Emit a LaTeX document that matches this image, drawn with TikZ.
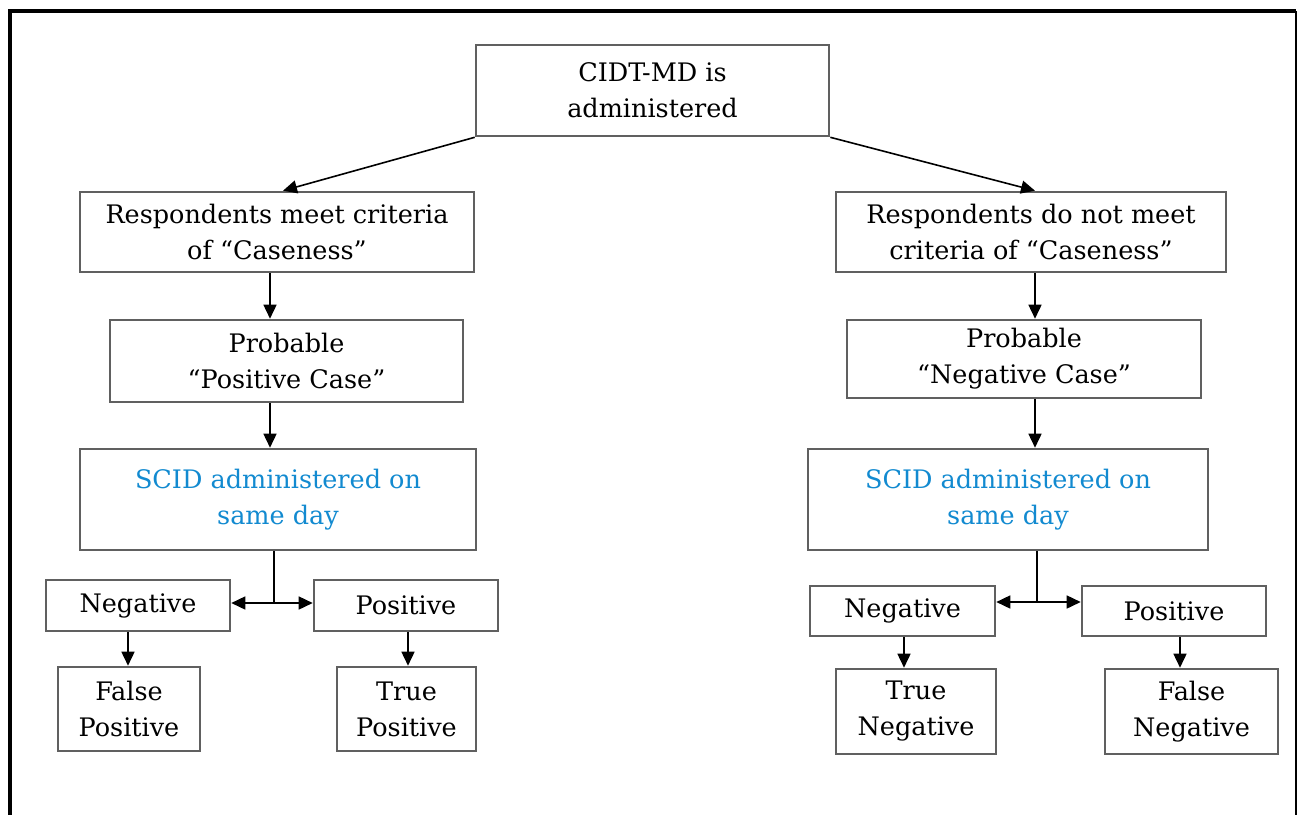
\documentclass[tikz,border=0pt]{standalone}
\usepackage{fontspec}
\setmainfont{DejaVu Serif}
\usetikzlibrary{positioning,calc,arrows.meta}
\definecolor{boxgray}{RGB}{96,96,96}
\definecolor{scidblue}{RGB}{18,138,208}

\begin{document}
\begin{tikzpicture}[x=1pt,y=-1pt,
  box/.style={draw=boxgray, line width=2.6pt, align=center, inner sep=0pt,
              font=\fontsize{25.5}{36}\selectfont},
  arr/.style={line width=1.6pt, -{Triangle[length=14pt,width=13pt]}}]
\useasboundingbox (0,0) rectangle (1298,814);
% frame
\draw[line width=4.5pt] (10,818) -- (10,11) -- (1296,11);
\draw[line width=2.4pt] (1296,11) -- (1296,818);

\node[box, minimum width=353pt, minimum height=91pt] (cidt) at (652.5,90.5)
  {CIDT-MD is\\administered};

% left branch
\node[box, minimum width=394pt, minimum height=80pt] (meet) at (277,232)
  {Respondents meet criteria\\of “Caseness”};
\node[box, minimum width=353pt, minimum height=82pt] (poscase) at (286.5,361)
  {Probable\\“Positive Case”};
\node[box, text=scidblue, minimum width=396pt, minimum height=101pt] (scidl) at (278,499.5)
  {SCID administered on\\same day};
\node[box, minimum width=184pt, minimum height=51pt] (negl) at (138,605.5) {Negative};
\node[box, minimum width=184pt, minimum height=51pt] (posl) at (406,605.5) {Positive};
\node[box, minimum width=142pt, minimum height=84pt] (fp) at (129,709) {False\\Positive};
\node[box, minimum width=139pt, minimum height=84pt] (tp) at (406.5,709) {True\\Positive};

% right branch
\node[box, minimum width=390pt, minimum height=80pt] (notmeet) at (1031,232)
  {Respondents do not meet\\criteria of “Caseness”};
\node[box, minimum width=354pt, minimum height=78pt] (negcase) at (1024,359)
  {Probable\\“Negative Case”};
\node[box, text=scidblue, minimum width=400pt, minimum height=101pt] (scidr) at (1008,499.5)
  {SCID administered on\\same day};
\node[box, minimum width=185pt, minimum height=50pt] (negr) at (902.5,611) {Negative};
\node[box, minimum width=184pt, minimum height=50pt] (posr) at (1174,611) {Positive};
\node[box, minimum width=160pt, minimum height=85pt] (tn) at (916,711.5) {True\\Negative};
\node[box, minimum width=173pt, minimum height=85pt] (fn) at (1191.5,711.5) {False\\Negative};

\coordinate (splitl) at (274,603);
\coordinate (splitr) at (1037,602);

\draw[arr] (cidt.south west) -- ([xshift=6pt]meet.north);
\draw[arr] (cidt.south east) -- ([xshift=4pt]notmeet.north);
\draw[arr] ([xshift=-7pt]meet.south) -- ([xshift=-7pt]meet.south |- poscase.north);
\draw[arr] ([xshift=-16.5pt]poscase.south) -- ([xshift=-16.5pt]poscase.south |- scidl.north);
\draw[line width=1.6pt] (scidl.south -| splitl) -- (splitl);
\draw[arr] (splitl) -- (negl.east |- splitl);
\draw[arr] (splitl) -- (posl.west |- splitl);
\draw[arr] ([xshift=-10pt]negl.south) -- ([xshift=-10pt]negl.south |- fp.north);
\draw[arr] ([xshift=2pt]posl.south) -- ([xshift=2pt]posl.south |- tp.north);

\draw[arr] ([xshift=4pt]notmeet.south) -- ([xshift=4pt]notmeet.south |- negcase.north);
\draw[arr] ([xshift=11pt]negcase.south) -- ([xshift=11pt]negcase.south |- scidr.north);
\draw[line width=1.6pt] (scidr.south -| splitr) -- (splitr);
\draw[arr] (splitr) -- (negr.east |- splitr);
\draw[arr] (splitr) -- (posr.west |- splitr);
\draw[arr] ([xshift=1.5pt]negr.south) -- ([xshift=1.5pt]negr.south |- tn.north);
\draw[arr] ([xshift=6pt]posr.south) -- ([xshift=6pt]posr.south |- fn.north);
\end{tikzpicture}
\end{document}
